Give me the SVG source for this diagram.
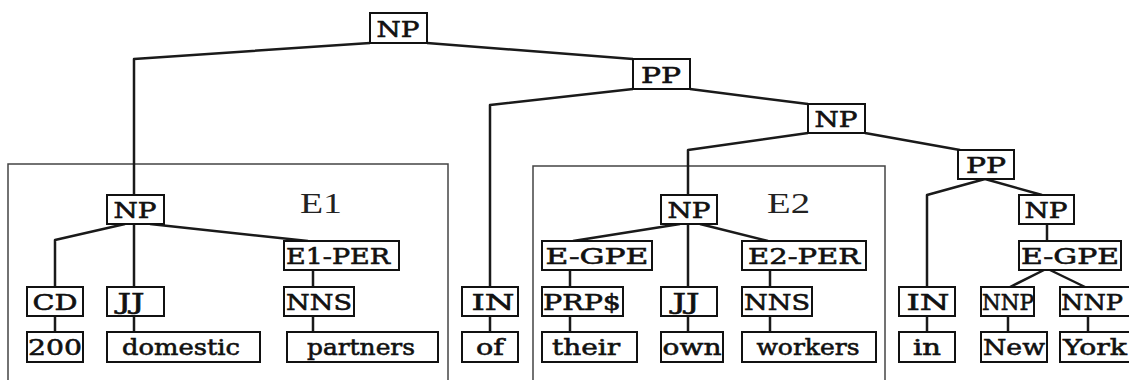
<svg xmlns="http://www.w3.org/2000/svg" width="1129" height="380" viewBox="0 0 1129 380">
  <style>
    .box { fill: #fff; stroke: #111; stroke-width: 2; }
    .lbl { font-family: "DejaVu Serif", "Liberation Serif", serif; font-size: 23px; fill: #111; text-anchor: middle; stroke: #111; stroke-width: 0.6; }
    .ent { fill: none; stroke: #444; stroke-width: 1.5; }
    .ename { font-family: "Liberation Serif", "DejaVu Serif", serif; font-size: 30px; fill: #222; }
    #connectors path { fill: none; stroke: #1a1a1a; stroke-width: 2.5; stroke-linejoin: round; }
  </style>
  <rect width="1129" height="380" fill="#fff"/>

  <!-- entity spans -->
  <g id="entity-E1">
    <rect class="ent" x="8" y="164" width="440" height="260"/>
    <text class="ename" x="300" y="213" textLength="42" lengthAdjust="spacingAndGlyphs">E1</text>
  </g>
  <g id="entity-E2">
    <rect class="ent" x="533" y="166" width="352" height="260"/>
    <text class="ename" x="767" y="213" textLength="43" lengthAdjust="spacingAndGlyphs">E2</text>
  </g>

  <!-- tree edges -->
  <g id="connectors">
    <path d="M370,43 L134,59 L134,195"/>
    <path d="M134,224 L134,287 M134,316 L134,332"/>
    <path d="M427,43 L633,59"/>
    <path d="M633,89 L490,105 L490,287 M490,316 L490,332"/>
    <path d="M690,89 L808,104"/>
    <path d="M808,133 L688,150 L688,195 M688,224 L688,287 M688,316 L688,332"/>
    <path d="M865,133 L960,150"/>
    <path d="M985,179 L927,195 L927,287 M927,316 L927,332"/>
    <path d="M985,179 L1042,195"/>
    <path d="M1047,224 L1047,241"/>
    <path d="M1044,270 L1010,287 M1050,270 L1085,287"/>
    <path d="M1008,316 L1008,332 M1088,316 L1088,332"/>
    <path d="M125,224 L55,240 L55,287 M55,316 L55,332"/>
    <path d="M150,224 L308,241"/>
    <path d="M313,270 L313,287 M313,316 L313,332"/>
    <path d="M680,224 L573,241 M700,224 L768,241"/>
    <path d="M570,270 L570,287 M570,316 L570,332"/>
    <path d="M770,270 L770,287 M770,316 L770,332"/>
  </g>

  <!-- phrase nodes -->
  <g id="np-root"><rect class="box" x="370" y="13" width="57" height="30"/><text class="lbl" x="398" y="37" textLength="43" lengthAdjust="spacingAndGlyphs">NP</text></g>
  <g id="pp-of"><rect class="box" x="633" y="59" width="57" height="30"/><text class="lbl" x="661" y="83" textLength="40" lengthAdjust="spacingAndGlyphs">PP</text></g>
  <g id="np-obj"><rect class="box" x="808" y="104" width="57" height="29"/><text class="lbl" x="836" y="127" textLength="43" lengthAdjust="spacingAndGlyphs">NP</text></g>
  <g id="pp-in"><rect class="box" x="958" y="150" width="56" height="29"/><text class="lbl" x="986" y="173" textLength="40" lengthAdjust="spacingAndGlyphs">PP</text></g>
  <g id="np-e1"><rect class="box" x="107" y="195" width="57" height="29"/><text class="lbl" x="135" y="218" textLength="43" lengthAdjust="spacingAndGlyphs">NP</text></g>
  <g id="np-e2"><rect class="box" x="661" y="195" width="56" height="29"/><text class="lbl" x="689" y="218" textLength="43" lengthAdjust="spacingAndGlyphs">NP</text></g>
  <g id="np-ny"><rect class="box" x="1019" y="195" width="55" height="29"/><text class="lbl" x="1046" y="218" textLength="43" lengthAdjust="spacingAndGlyphs">NP</text></g>

  <!-- entity-type nodes -->
  <g id="e1-per"><rect class="box" x="284" y="241" width="115" height="29"/><text class="lbl" x="338" y="264" textLength="104" lengthAdjust="spacingAndGlyphs">E1-PER</text></g>
  <g id="e-gpe-their"><rect class="box" x="542" y="241" width="110" height="29"/><text class="lbl" x="597" y="264" textLength="103" lengthAdjust="spacingAndGlyphs">E-GPE</text></g>
  <g id="e2-per"><rect class="box" x="742" y="241" width="124" height="29"/><text class="lbl" x="804" y="264" textLength="112" lengthAdjust="spacingAndGlyphs">E2-PER</text></g>
  <g id="e-gpe-ny"><rect class="box" x="1019" y="241" width="102" height="29"/><text class="lbl" x="1070" y="264" textLength="98" lengthAdjust="spacingAndGlyphs">E-GPE</text></g>

  <!-- part-of-speech nodes -->
  <g id="pos-cd"><rect class="box" x="27" y="287" width="56" height="29"/><text class="lbl" x="55" y="310" textLength="45" lengthAdjust="spacingAndGlyphs">CD</text></g>
  <g id="pos-jj1"><rect class="box" x="107" y="287" width="57" height="29"/><text class="lbl" x="131" y="309" textLength="27" lengthAdjust="spacingAndGlyphs">JJ</text></g>
  <g id="pos-nns1"><rect class="box" x="284" y="287" width="70" height="29"/><text class="lbl" x="319" y="310" textLength="66" lengthAdjust="spacingAndGlyphs">NNS</text></g>
  <g id="pos-in1"><rect class="box" x="462" y="287" width="56" height="29"/><text class="lbl" x="493" y="310" textLength="43" lengthAdjust="spacingAndGlyphs">IN</text></g>
  <g id="pos-prp"><rect class="box" x="542" y="287" width="81" height="29"/><text class="lbl" x="582" y="310" textLength="78" lengthAdjust="spacingAndGlyphs">PRP$</text></g>
  <g id="pos-jj2"><rect class="box" x="661" y="287" width="56" height="29"/><text class="lbl" x="686" y="309" textLength="27" lengthAdjust="spacingAndGlyphs">JJ</text></g>
  <g id="pos-nns2"><rect class="box" x="742" y="287" width="70" height="29"/><text class="lbl" x="777" y="310" textLength="66" lengthAdjust="spacingAndGlyphs">NNS</text></g>
  <g id="pos-in2"><rect class="box" x="899" y="287" width="56" height="29"/><text class="lbl" x="928" y="310" textLength="43" lengthAdjust="spacingAndGlyphs">IN</text></g>
  <g id="pos-nnp1"><rect class="box" x="981" y="287" width="53" height="29"/><text class="lbl" x="1008" y="310" textLength="52" lengthAdjust="spacingAndGlyphs">NNP</text></g>
  <g id="pos-nnp2"><rect class="box" x="1060" y="287" width="72" height="29"/><text class="lbl" x="1092" y="310" textLength="62" lengthAdjust="spacingAndGlyphs">NNP</text></g>

  <!-- words -->
  <g id="w-200"><rect class="box" x="27" y="332" width="56" height="30"/><text class="lbl" x="55" y="355" textLength="54" lengthAdjust="spacingAndGlyphs">200</text></g>
  <g id="w-domestic"><rect class="box" x="107" y="332" width="153" height="30"/><text class="lbl" x="181" y="355" textLength="118" lengthAdjust="spacingAndGlyphs">domestic</text></g>
  <g id="w-partners"><rect class="box" x="287" y="332" width="151" height="30"/><text class="lbl" x="361" y="355" textLength="108" lengthAdjust="spacingAndGlyphs">partners</text></g>
  <g id="w-of"><rect class="box" x="462" y="332" width="56" height="30"/><text class="lbl" x="490" y="355" textLength="28" lengthAdjust="spacingAndGlyphs">of</text></g>
  <g id="w-their"><rect class="box" x="542" y="332" width="95" height="30"/><text class="lbl" x="586" y="355" textLength="68" lengthAdjust="spacingAndGlyphs">their</text></g>
  <g id="w-own"><rect class="box" x="661" y="332" width="62" height="30"/><text class="lbl" x="692" y="355" textLength="59" lengthAdjust="spacingAndGlyphs">own</text></g>
  <g id="w-workers"><rect class="box" x="742" y="332" width="134" height="30"/><text class="lbl" x="808" y="355" textLength="103" lengthAdjust="spacingAndGlyphs">workers</text></g>
  <g id="w-in"><rect class="box" x="899" y="332" width="56" height="30"/><text class="lbl" x="927" y="355" textLength="28" lengthAdjust="spacingAndGlyphs">in</text></g>
  <g id="w-new"><rect class="box" x="981" y="332" width="66" height="30"/><text class="lbl" x="1014" y="355" textLength="62" lengthAdjust="spacingAndGlyphs">New</text></g>
  <g id="w-york"><rect class="box" x="1060" y="332" width="75" height="30"/><text class="lbl" x="1095" y="355" textLength="64" lengthAdjust="spacingAndGlyphs">York</text></g>
</svg>
